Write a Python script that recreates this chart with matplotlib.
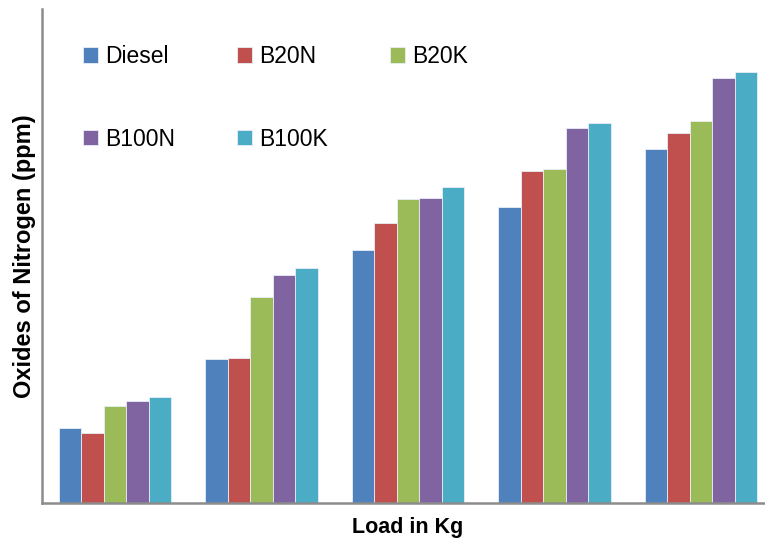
import numpy as np
import matplotlib
matplotlib.use('Agg')
import matplotlib.pyplot as plt

plt.rcParams['font.family'] = ['Liberation Sans', 'DejaVu Sans']

loads = ['1', '2', '3', '4', '5']
series = ['Diesel', 'B20N', 'B20K', 'B100N', 'B100K']
colors = ['#4F81BD', '#C0504D', '#9BBB59', '#8064A2', '#4BACC6']

diesel = [75, 144, 253, 296, 354]
b20n = [70, 145, 280, 332, 370]
b20k = [97, 206, 304, 334, 382]
b100n = [102, 228, 305, 375, 425]
b100k = [106, 235, 316, 380, 431]
values = [diesel, b20n, b20k, b100n, b100k]

fig = plt.figure(figsize=(7.65, 5.41), dpi=100)
ax = fig.add_axes([42 / 765, 38 / 541, 732 / 765, 494 / 541])

x = np.arange(len(loads))
w = 22.5 / 146.4
bars = []
for i, (name, vals) in enumerate(zip(series, values)):
    b = ax.bar(x + (i - 2) * w, vals, w, color=colors[i], label=name,
               edgecolor='#e8eef6', linewidth=0.6)
    bars.append(b)

ax.set_xlim(-0.5, 4.5)
ax.set_ylim(0, 494)
ax.set_xticks([])
ax.set_yticks([])
for s in ['top', 'right']:
    ax.spines[s].set_visible(False)
for s in ['left', 'bottom']:
    ax.spines[s].set_color('#8c8c8c')
    ax.spines[s].set_linewidth(1.8)

ax.set_xlabel('Load in Kg', fontsize=15.5, fontweight='bold', labelpad=10)
ax.set_ylabel('Oxides of Nitrogen (ppm)', fontsize=17, fontweight='bold', labelpad=4)

# legend fills column by column, so reorder to get rows Diesel/B20N/B20K, B100N/B100K
order = [0, 3, 1, 4, 2]
ax.legend([bars[k] for k in order], [series[k] for k in order],
          loc='upper left', bbox_to_anchor=(83 / 765, 1 - 45 / 541),
          bbox_transform=fig.transFigure, ncol=3, frameon=False,
          fontsize=16.5, handlelength=0.65, handleheight=0.65,
          handletextpad=0.3, columnspacing=2.72, labelspacing=2.6,
          borderpad=0, borderaxespad=0)

fig.savefig('out.png', dpi=100)
